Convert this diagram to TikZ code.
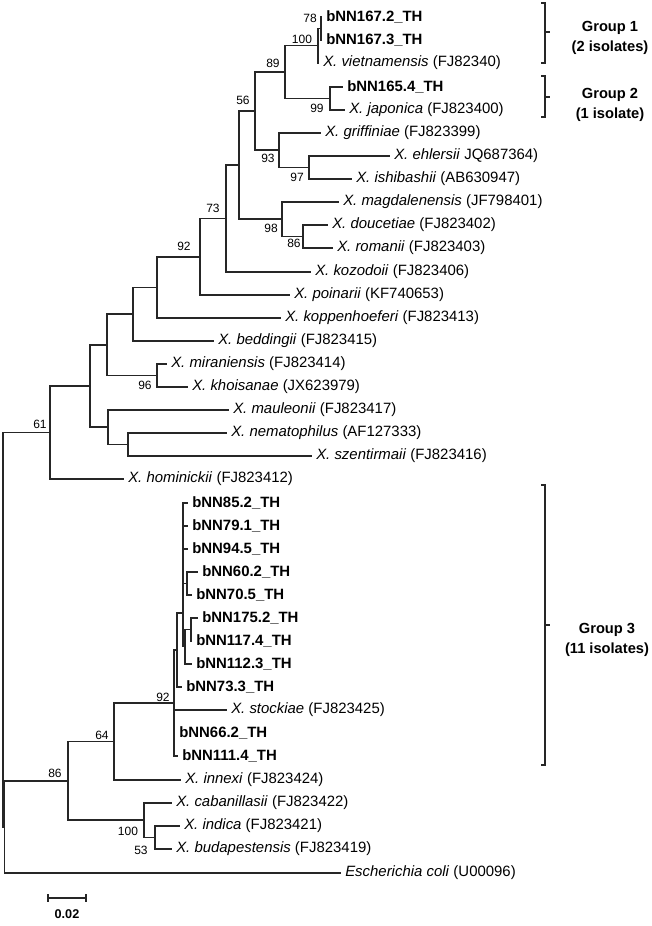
\documentclass[tikz,border=0pt]{standalone}
\usepackage{fontspec}
\setmainfont{Liberation Sans}
\usetikzlibrary{calc}

\newcommand{\leaffont}{\fontsize{11.2}{13}\selectfont}
\newcommand{\bootfont}{\fontsize{9}{10}\selectfont}
\newcommand{\spc}[2]{\textit{X. #1} (#2)}

\tikzset{
  branch/.style={line width=0.9pt, black!85},
  leaf/.style={anchor=west, inner xsep=3pt, inner ysep=0pt, font=\leaffont},
  iso/.style={leaf, font=\leaffont\bfseries},
  boot/.style={font=\bootfont, inner sep=0pt},
  grp/.style={font=\fontsize{11}{15}\selectfont\bfseries, align=center},
}

\begin{document}
\begin{tikzpicture}[x=0.75pt, y=-0.75pt]
  \useasboundingbox (0,0) rectangle (652,926);

  % internal nodes of the tree
  \coordinate (n78) at (321,28.5);
  \coordinate (n100a) at (318,45.8);
  \coordinate (n99) at (330,98.5);
  \coordinate (n89) at (285,72);
  \coordinate (n97) at (309,167.5);
  \coordinate (n93) at (279,150);
  \coordinate (n56) at (255,111);
  \coordinate (n86a) at (303,236.5);
  \coordinate (n98) at (282,219);
  \coordinate (nB) at (239,165);
  \coordinate (n73) at (226,218.5);
  \coordinate (n92a) at (200,257);
  \coordinate (nD) at (157,287.5);
  \coordinate (nE) at (133,314);
  \coordinate (n96) at (157,375.5);
  \coordinate (nF) at (107,345);
  \coordinate (nI) at (128,444.5);
  \coordinate (nH) at (108,427);
  \coordinate (nG) at (90,386);
  \coordinate (n61) at (50,432.5);
  \coordinate (nA3) at (187,583.5);
  \coordinate (nB3) at (191,629.5);
  \coordinate (nC3) at (185,646.8);
  \coordinate (nE3) at (183,613);
  \coordinate (nP) at (177,650);
  \coordinate (n92b) at (174,703);
  \coordinate (n64) at (114,741.5);
  \coordinate (n53) at (155,837.5);
  \coordinate (n100b) at (144,820);
  \coordinate (n86b) at (68,781);
  \coordinate (nK) at (4.5,827);
  \coordinate (root) at (3,630);

  % leaves
  \node[iso] (l1672) at (322,17) {bNN167.2\_TH};
  \node[iso] (l1673) at (322,40) {bNN167.3\_TH};
  \node[leaf] (viet) at (319,63) {\spc{vietnamensis}{FJ82340}};
  \node[iso] (l1654) at (343,87) {bNN165.4\_TH};
  \node[leaf] (japo) at (345,110) {\spc{japonica}{FJ823400}};
  \node[leaf] (grif) at (321,133) {\spc{griffiniae}{FJ823399}};
  \node[leaf] (ehle) at (390,156) {\textit{X. ehlersii} JQ687364)};
  \node[leaf] (ishi) at (352,179) {\spc{ishibashii}{AB630947}};
  \node[leaf] (magd) at (339,202) {\spc{magdalenensis}{JF798401}};
  \node[leaf] (douc) at (328,225) {\spc{doucetiae}{FJ823402}};
  \node[leaf] (roma) at (333,248) {\spc{romanii}{FJ823403}};
  \node[leaf] (kozo) at (311,272) {\spc{kozodoii}{FJ823406}};
  \node[leaf] (poin) at (290,295) {\spc{poinarii}{KF740653}};
  \node[leaf] (kopp) at (281,318) {\spc{koppenhoeferi}{FJ823413}};
  \node[leaf] (bedd) at (214,341) {\spc{beddingii}{FJ823415}};
  \node[leaf] (mira) at (167,364) {\spc{miraniensis}{FJ823414}};
  \node[leaf] (khoi) at (188,387) {\spc{khoisanae}{JX623979}};
  \node[leaf] (maul) at (229,410) {\spc{mauleonii}{FJ823417}};
  \node[leaf] (nema) at (227,433) {\spc{nematophilus}{AF127333}};
  \node[leaf] (szen) at (312,456) {\spc{szentirmaii}{FJ823416}};
  \node[leaf] (homi) at (124,479) {\spc{hominickii}{FJ823412}};
  \node[iso] (l852) at (188,503) {bNN85.2\_TH};
  \node[iso] (l791) at (188,526) {bNN79.1\_TH};
  \node[iso] (l945) at (188,549) {bNN94.5\_TH};
  \node[iso] (l602) at (198,572) {bNN60.2\_TH};
  \node[iso] (l705) at (192,595) {bNN70.5\_TH};
  \node[iso] (l1752) at (198,618) {bNN175.2\_TH};
  \node[iso] (l1174) at (192,641) {bNN117.4\_TH};
  \node[iso] (l1123) at (192,664) {bNN112.3\_TH};
  \node[iso] (l733) at (182,687) {bNN73.3\_TH};
  \node[leaf] (stoc) at (227,710) {\spc{stockiae}{FJ823425}};
  \node[iso] (l662) at (175,733) {bNN66.2\_TH};
  \node[iso] (l1114) at (178,756) {bNN111.4\_TH};
  \node[leaf] (inne) at (181,780) {\spc{innexi}{FJ823424}};
  \node[leaf] (caba) at (172,803) {\spc{cabanillasii}{FJ823422}};
  \node[leaf] (indi) at (180,826) {\spc{indica}{FJ823421}};
  \node[leaf] (buda) at (172,849) {\spc{budapestensis}{FJ823419}};
  \node[leaf] (ecol) at (341,873) {\textit{Escherichia coli} (U00096)};

  % branches, parent/child
  \foreach \p/\c in {n78/l1672, n78/l1673, n100a/n78, n100a/viet,
      n99/l1654, n99/japo, n89/n100a, n89/n99, n97/ehle, n97/ishi,
      n93/grif, n93/n97, n56/n89, n56/n93, n86a/douc, n86a/roma,
      n98/magd, n98/n86a, nB/n56, nB/n98, n73/nB, n73/kozo,
      n92a/n73, n92a/poin, nD/n92a, nD/kopp, nE/nD, nE/bedd,
      n96/mira, n96/khoi, nF/nE, nF/n96, nI/nema, nI/szen,
      nH/maul, nH/nI, nG/nF, nG/nH, n61/nG, n61/homi,
      nA3/l602, nA3/l705, nB3/l1752, nB3/l1174, nC3/nB3, nC3/l1123,
      nE3/l852, nE3/l791, nE3/l945, nE3/nA3, nE3/nC3, nP/nE3, nP/l733,
      n92b/nP, n92b/stoc, n92b/l662, n92b/l1114, n64/n92b, n64/inne,
      n53/indi, n53/buda, n100b/caba, n100b/n53, n86b/n64, n86b/n100b,
      nK/n86b, nK/ecol, root/n61, root/nK}
    \draw[branch] (\p) |- (\c);

  % bootstrap values
  \node[boot] (b78) at (310,18) {78};
  \node[boot] (b100a) at (302,39) {100};
  \node[boot] (b89) at (273,63) {89};
  \node[boot] (b99) at (317,108) {99};
  \node[boot] (b56) at (243,100) {56};
  \node[boot] (b93) at (268,158) {93};
  \node[boot] (b97) at (297,177) {97};
  \node[boot] (b98) at (271,228) {98};
  \node[boot] (b86a) at (294,243) {86};
  \node[boot] (b73) at (213,208) {73};
  \node[boot] (b92a) at (184,246) {92};
  \node[boot] (b96) at (145,385) {96};
  \node[boot] (b61) at (40,424) {61};
  \node[boot] (b92b) at (163,697) {92};
  \node[boot] (b64) at (102,735) {64};
  \node[boot] (b86b) at (55,773) {86};
  \node[boot] (b100b) at (128,831) {100};
  \node[boot] (b53) at (141,850) {53};

  % group brackets
  \draw[branch] (541,3) -- (545,3) -- (545,63) -- (541,63);
  \draw[branch] (545,32) -- (550,32);
  \node[grp] (g1) at (610,38) {Group 1\\(2 isolates)};
  \draw[branch] (541,76) -- (545,76) -- (545,117) -- (541,117);
  \draw[branch] (545,97) -- (550,97);
  \node[grp] (g2) at (610,104.5) {Group 2\\(1 isolate)};
  \draw[branch] (541,485) -- (545,485) -- (545,765) -- (541,765);
  \draw[branch] (545,625) -- (550,625);
  \node[grp] (g3) at (607,639.5) {Group 3\\(11 isolates)};

  % scale bar
  \coordinate (sb1) at (48,898);
  \coordinate (sb2) at (86,898);
  \draw[branch] (sb1) -- (sb2);
  \draw[branch] ($(sb1)+(0,-4)$) -- ($(sb1)+(0,4)$);
  \draw[branch] ($(sb2)+(0,-4)$) -- ($(sb2)+(0,4)$);
  \node[boot, font=\fontsize{9.5}{11}\selectfont\bfseries] (sbl) at (67,914) {0.02};
\end{tikzpicture}
\end{document}
